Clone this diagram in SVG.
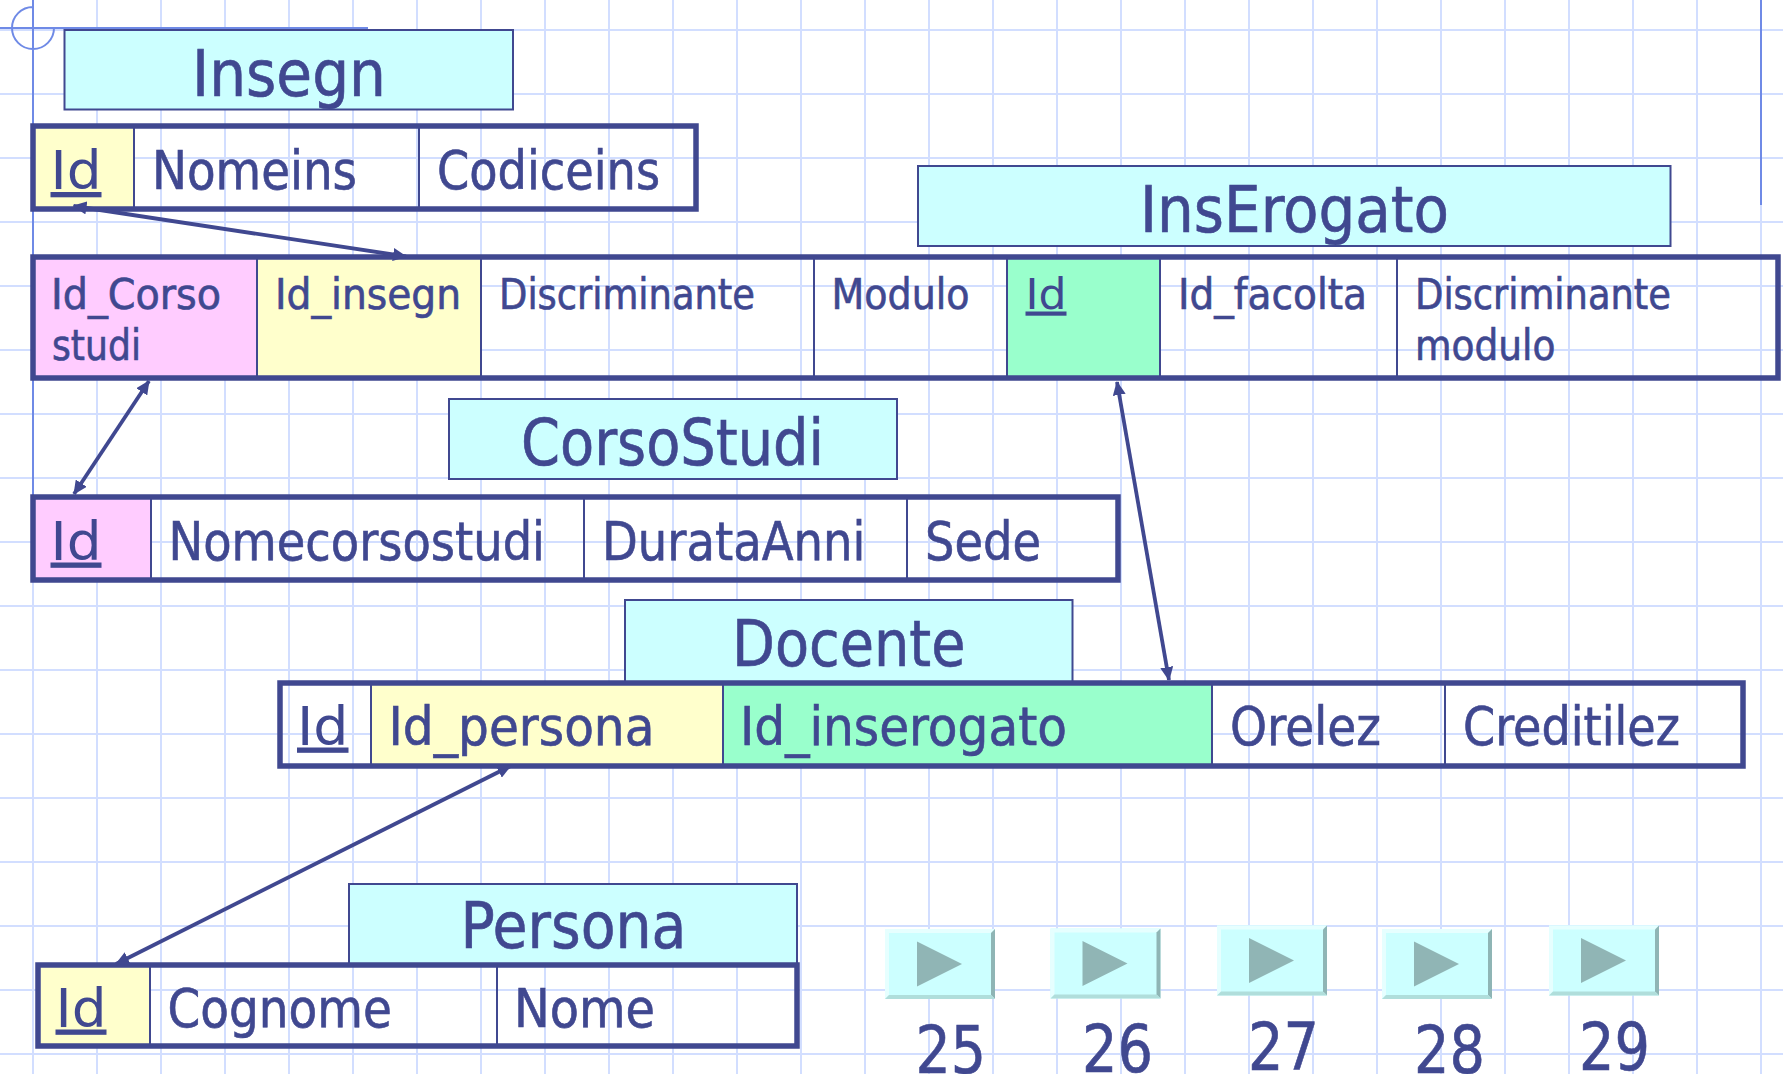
<svg xmlns="http://www.w3.org/2000/svg" width="1783" height="1074" viewBox="0 0 1783 1074">
<style>
.g{stroke:#d2deff;stroke-width:2;fill:none}
.m{stroke:#6f8ae6;stroke-width:2;fill:none}
.title{fill:#ccffff;stroke:#404890;stroke-width:2}
.outer{fill:none;stroke:#404890;stroke-width:5.500}
.div{stroke:#404890;stroke-width:2}
text{font-family:"DejaVu Sans Condensed","DejaVu Sans",sans-serif;fill:#404890;stroke:#404890;stroke-width:.6}
.t62{font-size:64px}.t52{font-size:53px}.t41{font-size:42px}.n{font-size:66px}
.u{text-decoration:underline;stroke-width:0}
.c{stroke:#404890;stroke-width:3.800;fill:none;marker-start:url(#a);marker-end:url(#a)}
.py{fill:#ffffcc}.pp{fill:#ffccff}.pg{fill:#99ffcc}
.bf{fill:#ccffff}.bt{fill:#e6ffff}.bb{fill:#b0dedb}.br{fill:#8fb5b5}.bi{fill:#90b5b5}
</style>
<defs>
<marker id="a" viewBox="0 0 14 13" refX="13" refY="6.500" markerWidth="14" markerHeight="13" markerUnits="userSpaceOnUse" orient="auto-start-reverse"><path d="M0 0L14 6.500L0 13Z" fill="#404890"/></marker>
<g id="btn">
<rect class="bf" x="0" y="0" width="110" height="70"/>
<path class="bt" d="M0 0H110L106 4H4V66L0 70Z"/>
<path class="br" d="M110 0V70L106 66V4Z"/>
<path class="bb" d="M0 70H110L106 66H4Z"/>
<path class="bi" d="M32 12.500L77 35L32 57.500Z"/>
</g>
</defs>
<rect width="1783" height="1074" fill="#fff"/>
<g id="grid">
<path class="g" d="M33 0V1074M97 0V1074M161 0V1074M225 0V1074M289 0V1074M353 0V1074M417 0V1074M481 0V1074M545 0V1074M609 0V1074M673 0V1074M737 0V1074M801 0V1074M865 0V1074M929 0V1074M993 0V1074M1057 0V1074M1121 0V1074M1185 0V1074M1249 0V1074M1313 0V1074M1377 0V1074M1441 0V1074M1505 0V1074M1569 0V1074M1633 0V1074M1697 0V1074M1761 0V1074"/>
<path class="g" d="M0 30H1783M0 94H1783M0 158H1783M0 222H1783M0 286H1783M0 350H1783M0 414H1783M0 478H1783M0 542H1783M0 606H1783M0 670H1783M0 734H1783M0 798H1783M0 862H1783M0 926H1783M0 990H1783M0 1054H1783"/>
<path class="m" d="M33 0V495M0 28H368M1761 0V205M33 7A21 21 0 1 0 54 28"/>
</g>
<g id="insegn">
<rect class="title" x="64.500" y="30" width="448.500" height="79.500"/>
<text class="t62" x="192" y="95.500" textLength="194" lengthAdjust="spacingAndGlyphs">Insegn</text>
<rect class="py" x="33" y="126" width="101" height="83"/>
<path class="div" d="M134 126V209M419 126V209"/>
<rect class="outer" x="33" y="126" width="663" height="83"/>
<text class="t52 u" x="50.500" y="189" textLength="51" lengthAdjust="spacingAndGlyphs">Id</text>
<text class="t52" x="152" y="189" textLength="205" lengthAdjust="spacingAndGlyphs">Nomeins</text>
<text class="t52" x="437" y="189" textLength="223" lengthAdjust="spacingAndGlyphs">Codiceins</text>
</g>
<g id="inserogato">
<rect class="title" x="918" y="166" width="752.500" height="80"/>
<text class="t62" x="1140" y="231.500" textLength="309" lengthAdjust="spacingAndGlyphs">InsErogato</text>
<rect class="pp" x="33" y="257" width="224" height="121"/>
<rect class="py" x="257" y="257" width="224" height="121"/>
<rect class="pg" x="1007" y="257" width="153" height="121"/>
<path class="div" d="M257 257V378M481 257V378M814 257V378M1007 257V378M1160 257V378M1397 257V378"/>
<rect class="outer" x="33" y="257" width="1745" height="121"/>
<text class="t41" x="51" y="308.500" textLength="170" lengthAdjust="spacingAndGlyphs">Id_Corso</text>
<text class="t41" x="52" y="359.500" textLength="89" lengthAdjust="spacingAndGlyphs">studi</text>
<text class="t41" x="275" y="308.500" textLength="186" lengthAdjust="spacingAndGlyphs">Id_insegn</text>
<text class="t41" x="499" y="308.500" textLength="256" lengthAdjust="spacingAndGlyphs">Discriminante</text>
<text class="t41" x="831.500" y="308.500" textLength="138" lengthAdjust="spacingAndGlyphs">Modulo</text>
<text class="t41 u" x="1025.500" y="308.500" textLength="41" lengthAdjust="spacingAndGlyphs">Id</text>
<text class="t41" x="1178" y="308.500" textLength="189" lengthAdjust="spacingAndGlyphs">Id_facolta</text>
<text class="t41" x="1415" y="308.500" textLength="256" lengthAdjust="spacingAndGlyphs">Discriminante</text>
<text class="t41" x="1415" y="359.500" textLength="140.500" lengthAdjust="spacingAndGlyphs">modulo</text>
</g>
<g id="corsostudi">
<rect class="title" x="449" y="399" width="448" height="80"/>
<text class="t62" x="521" y="465" textLength="303" lengthAdjust="spacingAndGlyphs">CorsoStudi</text>
<rect class="pp" x="33" y="497" width="118" height="83"/>
<path class="div" d="M151 497V580M584 497V580M907 497V580"/>
<rect class="outer" x="33" y="497" width="1085" height="83"/>
<text class="t52 u" x="50.500" y="559.500" textLength="51" lengthAdjust="spacingAndGlyphs">Id</text>
<text class="t52" x="168.500" y="559.500" textLength="376.500" lengthAdjust="spacingAndGlyphs">Nomecorsostudi</text>
<text class="t52" x="602" y="559.500" textLength="263.500" lengthAdjust="spacingAndGlyphs">DurataAnni</text>
<text class="t52" x="925" y="559.500" textLength="116" lengthAdjust="spacingAndGlyphs">Sede</text>
</g>
<g id="docente">
<rect class="title" x="625" y="600" width="447.500" height="83"/>
<text class="t62" x="732" y="665.500" textLength="233.500" lengthAdjust="spacingAndGlyphs">Docente</text>
<rect class="py" x="371" y="683" width="352" height="83"/>
<rect class="pg" x="723" y="683" width="489" height="83"/>
<path class="div" d="M371 683V766M723 683V766M1212 683V766M1445 683V766"/>
<rect class="outer" x="280" y="683" width="1463" height="83"/>
<text class="t52 u" x="297" y="744.500" textLength="51.500" lengthAdjust="spacingAndGlyphs">Id</text>
<text class="t52" x="388.500" y="744.500" textLength="266" lengthAdjust="spacingAndGlyphs">Id_persona</text>
<text class="t52" x="740" y="744.500" textLength="327" lengthAdjust="spacingAndGlyphs">Id_inserogato</text>
<text class="t52" x="1230" y="744.500" textLength="151" lengthAdjust="spacingAndGlyphs">Orelez</text>
<text class="t52" x="1463" y="744.500" textLength="217" lengthAdjust="spacingAndGlyphs">Creditilez</text>
</g>
<g id="persona">
<rect class="title" x="349" y="884" width="448" height="81"/>
<text class="t62" x="460.500" y="947.500" textLength="226" lengthAdjust="spacingAndGlyphs">Persona</text>
<rect class="py" x="38" y="965" width="112" height="81"/>
<path class="div" d="M150 965V1046M497 965V1046"/>
<rect class="outer" x="38" y="965" width="759" height="81"/>
<text class="t52 u" x="55.500" y="1026.500" textLength="51" lengthAdjust="spacingAndGlyphs">Id</text>
<text class="t52" x="167.500" y="1026.500" textLength="224.500" lengthAdjust="spacingAndGlyphs">Cognome</text>
<text class="t52" x="514" y="1026.500" textLength="141" lengthAdjust="spacingAndGlyphs">Nome</text>
</g>
<g id="connectors">
<path class="c" d="M73.500 206L406 256.500"/>
<path class="c" d="M149 381L74 494"/>
<path class="c" d="M1117 382L1169 680"/>
<path class="c" d="M510.500 766L116 964"/>
</g>
<g id="nav25"><use href="#btn" x="885" y="929"/><text class="n" x="915.500" y="1072.500" textLength="70.500" lengthAdjust="spacingAndGlyphs">25</text></g>
<g id="nav26"><use href="#btn" x="1050.500" y="928.500"/><text class="n" x="1082" y="1072" textLength="71" lengthAdjust="spacingAndGlyphs">26</text></g>
<g id="nav27"><use href="#btn" x="1217" y="925.500"/><text class="n" x="1248" y="1070" textLength="71" lengthAdjust="spacingAndGlyphs">27</text></g>
<g id="nav28"><use href="#btn" x="1382" y="929"/><text class="n" x="1414" y="1073" textLength="71" lengthAdjust="spacingAndGlyphs">28</text></g>
<g id="nav29"><use href="#btn" x="1549" y="925.500"/><text class="n" x="1579" y="1070" textLength="71" lengthAdjust="spacingAndGlyphs">29</text></g>
</svg>
